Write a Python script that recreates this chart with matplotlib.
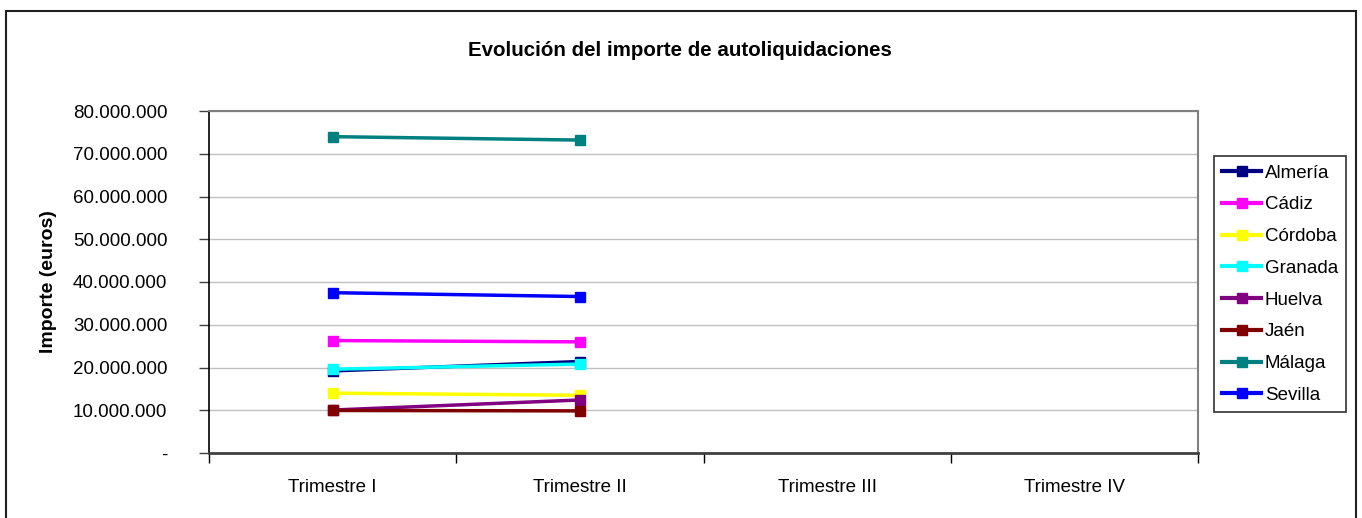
import numpy as np
import matplotlib
matplotlib.use("Agg")
import matplotlib.pyplot as plt
from matplotlib.patches import Rectangle
from matplotlib.ticker import FuncFormatter, FixedLocator

plt.rcParams['font.family'] = ['Liberation Sans', 'DejaVu Sans']

trimestres = ["Trimestre I", "Trimestre II", "Trimestre III", "Trimestre IV"]
provincias = ["Almería", "Cádiz", "Córdoba", "Granada", "Huelva", "Jaén", "Málaga", "Sevilla"]
colores = ["#000080", "#FF00FF", "#FFFF00", "#00FFFF", "#800080", "#800000", "#008080", "#0000FF"]

# importes en euros (solo hay datos de los dos primeros trimestres)
almeria = [19200000, 21400000, np.nan, np.nan]
cadiz = [26300000, 26000000, np.nan, np.nan]
cordoba = [14000000, 13500000, np.nan, np.nan]
granada = [19600000, 20800000, np.nan, np.nan]
huelva = [10050000, 12400000, np.nan, np.nan]
jaen = [9950000, 9850000, np.nan, np.nan]
malaga = [74000000, 73200000, np.nan, np.nan]
sevilla = [37500000, 36600000, np.nan, np.nan]
series = [almeria, cadiz, cordoba, granada, huelva, jaen, malaga, sevilla]

fig = plt.figure(figsize=(13.62, 5.18), dpi=100)
ax = fig.add_axes([209 / 1362, 65 / 518, 989 / 1362, 342 / 518])

x = np.arange(len(trimestres))
for nombre, vals, c in zip(provincias, series, colores):
    ax.plot(x, vals, color=c, lw=2.5, marker="s", ms=7.5, mfc=c, mec=c, label=nombre)

ax.set_xlim(-0.5, len(trimestres) - 0.5)
ax.set_ylim(0, 80000000)
ax.set_yticks(np.arange(0, 80000001, 10000000))


def miles(v, pos):
    if v == 0:
        return "-"
    return f"{int(v):,}".replace(",", ".")


ax.yaxis.set_major_formatter(FuncFormatter(miles))
ax.set_xticks(x)
ax.set_xticklabels(trimestres)
ax.xaxis.set_minor_locator(FixedLocator(np.arange(-0.5, len(trimestres), 1.0)))
ax.tick_params(axis="x", which="major", length=0, pad=19, labelsize=13.5)
ax.tick_params(axis="x", which="minor", length=7, width=1, color="black", direction="out")
ax.tick_params(axis="y", length=7, width=1, color="#404040", direction="out", labelsize=13.5, pad=23)
ax.grid(axis="y", color="#c0c0c0", lw=1)
ax.set_axisbelow(True)

ax.spines["top"].set_color("#808080")
ax.spines["right"].set_color("#808080")
ax.spines["top"].set_linewidth(1.5)
ax.spines["right"].set_linewidth(1.5)
ax.spines["left"].set_color("black")
ax.spines["left"].set_linewidth(1.2)
ax.spines["bottom"].set_color("#404040")
ax.spines["bottom"].set_linewidth(2)

ax.set_ylabel("Importe (euros)", fontsize=14, fontweight="bold")
ax.yaxis.set_label_coords((57 - 209) / 989, 0.5)
fig.text(0.499, 1 - 51 / 518, "Evolución del importe de autoliquidaciones",
         ha="center", va="center", fontsize=14.8, fontweight="bold")

leg = fig.legend(loc="upper left", bbox_to_anchor=(1214 / 1362, 1 - 156 / 518),
                 frameon=True, fancybox=False, edgecolor="black", fontsize=13.5,
                 handlelength=2.05, handletextpad=0.2, labelspacing=0.78,
                 borderpad=0.45, borderaxespad=0)
leg.get_frame().set_linewidth(1.2)
for h in leg.get_lines():
    h.set_linewidth(3)

# marco exterior del gráfico
fig.patches.append(Rectangle((6 / 1362, -0.02), 1350 / 1362, 1 - 11 / 518 + 0.02,
                             transform=fig.transFigure, fill=False,
                             edgecolor="#202020", lw=1.5, clip_on=False))

fig.savefig("out.png", dpi=100)
